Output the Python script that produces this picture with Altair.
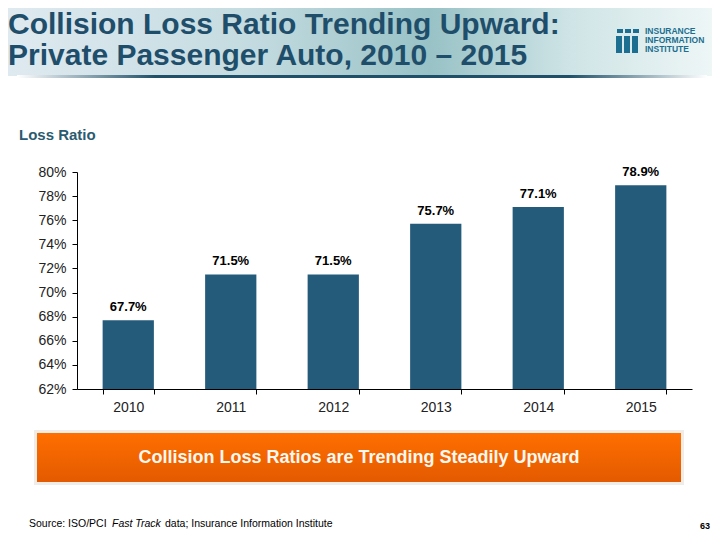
import altair as alt
import pandas as pd

years = ["2010", "2011", "2012", "2013", "2014", "2015"]
loss_ratio = [67.7, 71.5, 71.5, 75.7, 77.1, 78.9]
y_ticks = [62, 64, 66, 68, 70, 72, 74, 76, 78, 80]

title_lines = ["Collision Loss Ratio Trending Upward:", "Private Passenger Auto, 2010 \u2013 2015"]
y_title = "Loss Ratio"
callout = "Collision Loss Ratios are Trending Steadily Upward"
source_parts = ["Source: ISO/PCI", "Fast Track", "data; Insurance Information Institute"]
page_no = "63"
logo_lines = ["INSURANCE", "INFORMATION", "INSTITUTE"]

FONT = "Liberation Sans"
BAR = "#245a7a"
TEAL = "#1f4e6b"

df = pd.DataFrame({
    "year": years,
    "ratio": loss_ratio,
    "label": [f"{v:.1f}%" for v in loss_ratio],
})
one = pd.DataFrame({"k": [0]})

x_axis = alt.Axis(labelAngle=0, labelFont=FONT, labelFontSize=14, labelColor="#222",
                  tickBand="extent", tickSize=5, tickColor="#000", domainColor="#000",
                  labelPadding=6, grid=False, labelOverlap=False)
y_axis = alt.Axis(values=y_ticks, labelExpr="datum.value + '%'", labelFont=FONT,
                  labelFontSize=14, labelColor="#222", tickSize=5, tickColor="#000",
                  domainColor="#000", labelPadding=6, grid=False, labelOverlap=False)
x_scale = alt.Scale(paddingInner=0.5, paddingOuter=0.25)
y_scale = alt.Scale(domain=[62, 80], nice=False, zero=False)

bars = alt.Chart(df).mark_bar(color=BAR).encode(
    x=alt.X("year:N", sort=years, title=None, scale=x_scale, axis=x_axis),
    y=alt.Y("ratio:Q", title=None, scale=y_scale, axis=y_axis),
    y2=alt.datum(62))
labels = alt.Chart(df).mark_text(dy=-9, baseline="alphabetic", font=FONT, fontSize=13,
                                 fontWeight="bold", color="#000").encode(
    x=alt.X("year:N", sort=years, title=None, scale=x_scale, axis=x_axis),
    y=alt.Y("ratio:Q", title=None, scale=y_scale, axis=y_axis),
    text="label:N")


def rect(x, x2, y, y2, fill, **kw):
    return alt.Chart(one).mark_rect(fill=fill, **kw).encode(
        x=alt.value(x), x2=alt.value(x2), y=alt.value(y), y2=alt.value(y2))


def txt(s, x, y, **kw):
    return alt.Chart(one).mark_text(text=s, font=FONT, **kw).encode(
        x=alt.value(x), y=alt.value(y))


banner = rect(-69, 635, -164, -96, alt.Gradient(
    gradient="linear", x1=0, x2=1, y1=0, y2=0,
    stops=[alt.GradientStop(color="#dfeaf0", offset=0),
           alt.GradientStop(color="#c3dbe0", offset=0.35),
           alt.GradientStop(color="#98c2c6", offset=0.6),
           alt.GradientStop(color="#cfe4e6", offset=0.8),
           alt.GradientStop(color="#eef6f6", offset=1)]))
banner_line = rect(-60, 630, -97, -94, alt.Gradient(
    gradient="linear", x1=0, x2=1, y1=0, y2=0,
    stops=[alt.GradientStop(color="#ffffff", offset=0),
           alt.GradientStop(color="#1f5068", offset=0.2),
           alt.GradientStop(color="#1f5068", offset=0.8),
           alt.GradientStop(color="#ffffff", offset=1)]))

t1 = txt(title_lines[0], -69, -138, align="left", baseline="alphabetic", fontSize=30,
         fontWeight="bold", color=TEAL)
t2 = txt(title_lines[1], -69, -107, align="left", baseline="alphabetic", fontSize=30,
         fontWeight="bold", color=TEAL)

LOGO = "#1c6f90"
logo_parts = []
for bx in (539, 547, 555):
    logo_parts.append(rect(bx, bx + 6, -136, -119, LOGO))
    logo_parts.append(rect(bx + 1, bx + 7, -143, -139, LOGO))
for i, s in enumerate(logo_lines):
    logo_parts.append(txt(s, 568, -138 + i * 9, align="left", baseline="alphabetic",
                          fontSize=8.5, fontWeight="bold", color=LOGO))

ytitle = txt(y_title, -58, -32, align="left", baseline="alphabetic", fontSize=15,
             fontWeight="bold", color="#2b5b70")

shadow = rect(-43, 607, 258, 313, "#f0ece8")
box = rect(-40, 604, 261, 310, alt.Gradient(
    gradient="linear", x1=0, x2=0, y1=0, y2=1,
    stops=[alt.GradientStop(color="#ff6f00", offset=0),
           alt.GradientStop(color="#e35a00", offset=1)]))
box_text = txt(callout, 282, 286, align="center", baseline="middle", fontSize=18,
               fontWeight="bold", color="#fff8f0")

src1 = txt(source_parts[0], -48, 355, align="left", baseline="alphabetic", fontSize=10.5,
           color="#000")
src2 = txt(source_parts[1], 35, 355, align="left", baseline="alphabetic", fontSize=10.5,
           fontStyle="italic", color="#000")
src3 = txt(source_parts[2], 88, 355, align="left", baseline="alphabetic", fontSize=10.5,
           color="#000")
pg = txt(page_no, 633, 357, align="right", baseline="alphabetic", fontSize=9,
         fontWeight="bold", color="#000")

chart = alt.layer(
    banner, banner_line, t1, t2, *logo_parts, ytitle, shadow, box, box_text,
    src1, src2, src3, pg, bars, labels
).properties(
    width=615, height=217,
    autosize=alt.AutoSizeParams(type="none"),
    padding={"left": 69, "top": 164, "right": 20, "bottom": 143},
    background="white",
).configure_view(stroke=None).configure_axis(labelOverlap=False)

chart.save("out.html", embed_options={"renderer": "svg", "actions": False})
